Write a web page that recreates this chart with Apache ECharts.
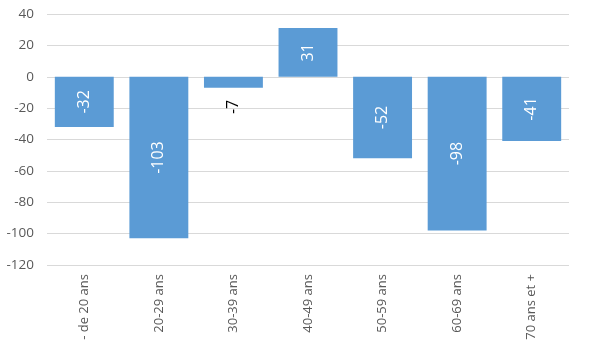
<!DOCTYPE html>
<html><head><meta charset="utf-8">
<script src="https://cdn.jsdelivr.net/npm/echarts@6/dist/echarts.min.js"></script>
<style>html,body{margin:0;padding:0;background:#fff}#c{width:600px;height:357px}</style>
</head><body><div id="c"></div>
<script>
const categories = ["- de 20 ans", "20-29 ans", "30-39 ans", "40-49 ans", "50-59 ans", "60-69 ans", "70 ans et +"];
const values = [-32, -103, -7, 31, -52, -98, -41];
const yTicks = { min: -120, max: 40, interval: 20 };
const outsideLabelIndex = [2];

const font = "'Open Sans', 'Liberation Sans', sans-serif";
const chart = echarts.init(document.getElementById('c'), null, { renderer: 'canvas' });
chart.setOption({
  animation: false,
  grid: { left: 47, right: 31, top: 14, bottom: 92 },
  xAxis: {
    type: 'category', data: categories,
    axisLine: { show: false }, axisTick: { show: false },
    axisLabel: { rotate: 90, color: '#595959', fontSize: 13, fontFamily: font, margin: 9 }
  },
  yAxis: {
    type: 'value', min: yTicks.min, max: yTicks.max, interval: yTicks.interval,
    axisLine: { show: false }, axisTick: { show: false },
    splitLine: { lineStyle: { color: '#d9d9d9', width: 1 } },
    axisLabel: { color: '#595959', fontSize: 13.5, fontFamily: font, margin: 13 }
  },
  series: [{
    type: 'bar', barCategoryGap: '21%',
    itemStyle: { color: '#5B9BD5' },
    label: { show: true, position: 'inside', rotate: 90, color: '#fff', fontSize: 16, fontFamily: font },
    data: values.map((v, i) => outsideLabelIndex.includes(i)
      ? { value: v, label: { position: 'bottom', color: '#000', distance: 12, align: 'right', verticalAlign: 'middle' } }
      : v)
  }]
});
</script></body></html>
